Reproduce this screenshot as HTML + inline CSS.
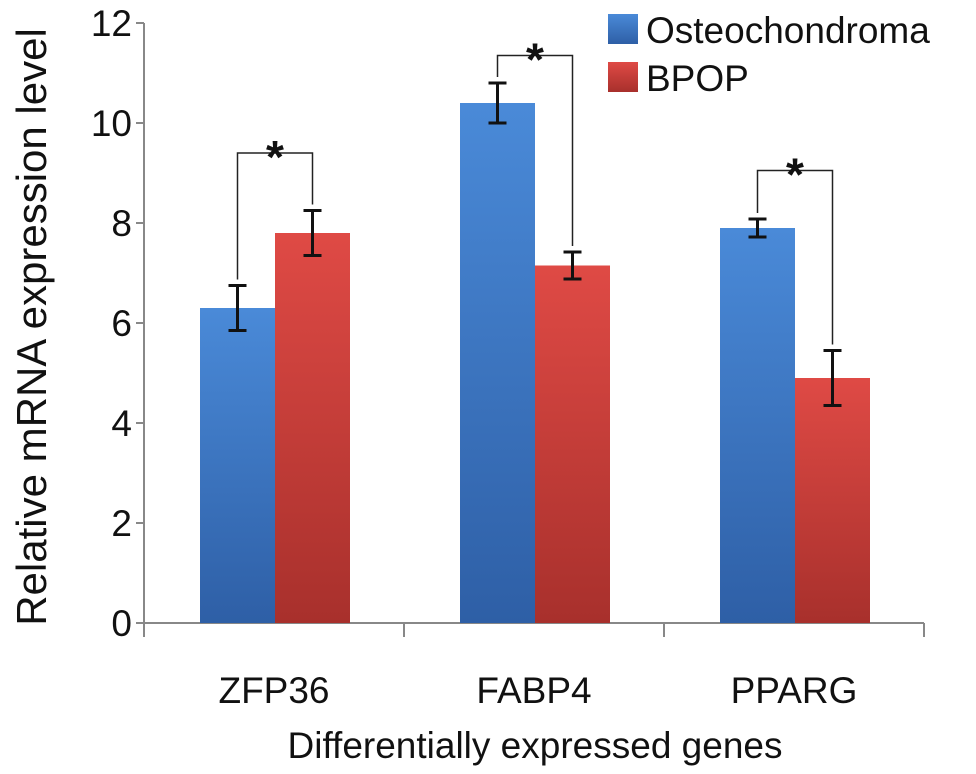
<!DOCTYPE html>
<html><head><meta charset="utf-8"><style>
body{margin:0;background:#fff}
text{font-family:"Liberation Sans",Arial,sans-serif;fill:#111}
</style></head><body>
<svg id="c" width="976" height="769" xmlns="http://www.w3.org/2000/svg">
<defs>
<linearGradient id="gb" x1="0" y1="0" x2="0" y2="1"><stop offset="0" stop-color="#4a8ad8"/><stop offset="1" stop-color="#2e5fa6"/></linearGradient>
<linearGradient id="gr" x1="0" y1="0" x2="0" y2="1"><stop offset="0" stop-color="#df4a45"/><stop offset="1" stop-color="#a8302c"/></linearGradient>
</defs>
</svg>
<script>
const categories=["ZFP36","FABP4","PPARG"];
const osteo=[6.3,10.4,7.9];
const osteoErr=[0.45,0.4,0.18];
const bpop=[7.8,7.15,4.9];
const bpopErr=[0.45,0.27,0.55];
const bracketLevel=[9.4,11.35,9.05];
const yTicks=[0,2,4,6,8,10,12];
const svg=document.getElementById('c');
const NS='http://www.w3.org/2000/svg';
const x0=144,y0=623,ppu=50,catW=260;
const Y=v=>y0-v*ppu;
const X=i=>x0+i*catW;
function mk(t,a,txt){const e=document.createElementNS(NS,t);for(const k in a)e.setAttribute(k,a[k]);if(txt!==undefined)e.textContent=txt;svg.appendChild(e);return e;}
let e;
e=mk('line',{x1:x0,y1:Y(12),x2:x0,y2:y0+8,stroke:'#888','stroke-width':2});


e=mk('line',{x1:x0-8,y1:y0,x2:X(3),y2:y0,stroke:'#888','stroke-width':2});


yTicks.forEach(v=>{
 e=mk('line',{x1:x0-8,y1:Y(v),x2:x0,y2:Y(v),stroke:'#888','stroke-width':2});
 
 
 e=mk('text',{x:x0-12,y:Y(v)+13,'text-anchor':'end','font-size':37},String(v));
 
 
});
for(let i=0;i<=3;i++){e=mk('line',{x1:X(i),y1:y0,x2:X(i),y2:y0+14,stroke:'#888','stroke-width':2});
 
 }
function errbar(cx,v,er){
 const g=[[cx,Y(v+er),cx,Y(v-er)],[cx-9,Y(v+er),cx+9,Y(v+er)],[cx-9,Y(v-er),cx+9,Y(v-er)]];
 g.forEach(l=>{e=mk('line',{x1:l[0],y1:l[1],x2:l[2],y2:l[3],stroke:'#111','stroke-width':3});
 
 });
}
categories.forEach((c,i)=>{
 const bx=X(i)+56,bw=75;
 e=mk('rect',{x:bx,y:Y(osteo[i]),width:bw,height:osteo[i]*ppu,fill:'url(#gb)'});
 
 
 e=mk('rect',{x:bx+bw,y:Y(bpop[i]),width:bw,height:bpop[i]*ppu,fill:'url(#gr)'});
 
 
 errbar(bx+bw/2,osteo[i],osteoErr[i]);
 errbar(bx+bw*1.5,bpop[i],bpopErr[i]);
 const top=bracketLevel[i];
 const a=bx+bw/2,b=bx+bw*1.5;
 e=mk('path',{d:`M${a},${Y(osteo[i]+osteoErr[i])-6}V${Y(top)}H${b}V${Y(bpop[i]+bpopErr[i])-6}`,fill:'none',stroke:'#222','stroke-width':1.5});
 
 
 e=mk('text',{x:(a+b)/2,y:Y(top)+20,'text-anchor':'middle','font-size':46,'font-weight':'bold'},'*');
 
 
 e=mk('text',{x:X(i)+catW/2,y:703,'text-anchor':'middle','font-size':37},c);
 
 
});
e=mk('text',{x:535,y:758,'text-anchor':'middle','font-size':37},'Differentially expressed genes');


e=mk('text',{x:0,y:0,'text-anchor':'middle','font-size':42,transform:'translate(46,327) rotate(-90)'},'Relative mRNA expression level');


[['Osteochondroma','url(#gb)',14],['BPOP','url(#gr)',62]].forEach(L=>{
 e=mk('rect',{x:608,y:L[2],width:30,height:30,fill:L[1]});
 
 
 e=mk('text',{x:646,y:L[2]+29,'font-size':37},L[0]);
 
 
});
</script>
</body></html>
